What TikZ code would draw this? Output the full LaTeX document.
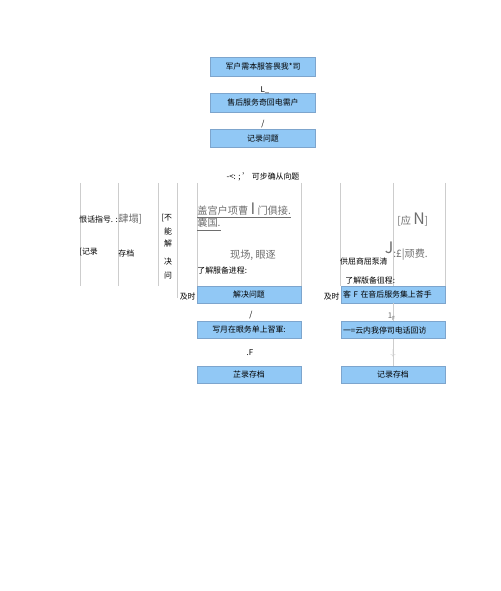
\documentclass[tikz,border=0pt]{standalone}
\usepackage{fontspec}
\setmainfont{Noto Sans CJK SC}
\definecolor{boxblue}{RGB}{145,200,245}
\definecolor{boxedge}{RGB}{125,165,205}
\definecolor{gridgray}{RGB}{205,205,205}
\definecolor{serifgray}{RGB}{110,110,110}
\tikzset{
    stepbox/.style={draw=boxedge, fill=boxblue, inner sep=0pt,
        minimum width=2.1cm, minimum height=0.37cm,
        font=\fontsize{4.5}{5}\selectfont},
    lowbox/.style={stepbox, minimum width=2.08cm, minimum height=0.34cm},
    note/.style={inner sep=0pt, font=\fontsize{4.5}{5}\selectfont},
    bignote/.style={inner sep=0pt, text=serifgray, font=\fontsize{5.8}{6.5}\selectfont},
    gridline/.style={draw=gridgray, line width=0.4pt}
}
\begin{document}
\begin{tikzpicture}[x=0.02cm, y=-0.02cm]
    \useasboundingbox (0,0) rectangle (500,591);
    % top column
    \node[stepbox] (need) at (263,67) {军户需本服答畏我*司};
    \node[stepbox] (call) at (263,103) {售后服务奇回电需户};
    \node[stepbox] (record) at (263,138.5) {记录问题};
    \node[note] at (265,90) {L\_};
    \node[note] at (263,124) {/};
    \node[note] (confirm) at (263,177) {-<: ; ' 可步确从向题};
    % grid lines
    \foreach \x in {80,118,158,301,340,393,445}
        \draw[gridline] (\x,183) -- (\x,286);
    \draw[gridline] (177,183) -- (177,298);
    \draw[gridline] (197,183) -- (197,286);
    % left block
    \node[note, anchor=west] at (79,219) {恨话指号. :};
    \node[bignote, anchor=west] at (118,219) {肆塌]};
    \node[note, anchor=west] at (79,252) {[记录};
    \node[note, anchor=west] at (118,253) {存档};
    \node[note, anchor=west] at (161,218) {[不};
    \foreach \c/\y in {能/231,解/244,决/262,问/276}
        \node[note] at (168,\y) {\c};
    % middle block
    \node[bignote, anchor=west] (visit) at (197,209) {盖宫户项曹 {\fontsize{9}{9}\selectfont I} 门俱接.};
    \draw[serifgray, line width=0.3pt] ([yshift=-1.2pt]visit.south west) -- ([yshift=-1.2pt]visit.south east);
    \node[bignote, anchor=west] (trap) at (197,223) {嚢国.};
    \draw[serifgray, line width=0.3pt] ([yshift=-1.2pt]trap.south west) -- ([yshift=-1.2pt]trap.south east);
    \node[bignote] at (253,255) {现场, 眼逐};
    \node[note, anchor=west] at (197,270) {了解服备进程:};
    \node[note, anchor=east] at (196,297) {及时};
    \node[lowbox] (solve) at (249,294.5) {解决问题};
    \node[note] at (251,315) {/};
    \node[lowbox] (write) at (249,330) {写月在眼务单上習軍:};
    \node[note] at (250,353) {.F};
    \node[lowbox] (file) at (249,374.5) {芷录存档};
    % right block
    \node[bignote, anchor=west] at (397,220) {[应 {\fontsize{9}{9}\selectfont N}]};
    \node[inner sep=0pt, text=serifgray, font=\fontsize{9}{9}\selectfont] at (389,248) {J};
    \node[bignote, anchor=west] at (393,255) {:£|顽费.};
    \node[note, anchor=east] at (388,261) {供屈商屈泵清};
    \node[note, anchor=west] at (345,281) {了解版备徂程:};
    \node[note, anchor=east] at (340,297) {及时};
    \node[lowbox, text width=2.0cm, align=left] (sign) at (393,294.5) {客 F 在音后服务集上荅手};
    \node[lowbox, text width=2.0cm, align=left] (back) at (393,330) {一=云内我停司电话回访};
    \node[lowbox] (file2) at (393,374.5) {记录存档};
    \draw[gridline] (sign) -- (back);
    \draw[gridline] (back) -- (file2);
    \node[note, text=serifgray] at (392,317) {1\textsubscript{F}};
    \node[note, text=gridgray] at (393,353) {$\downarrow$};
\end{tikzpicture}
\end{document}
